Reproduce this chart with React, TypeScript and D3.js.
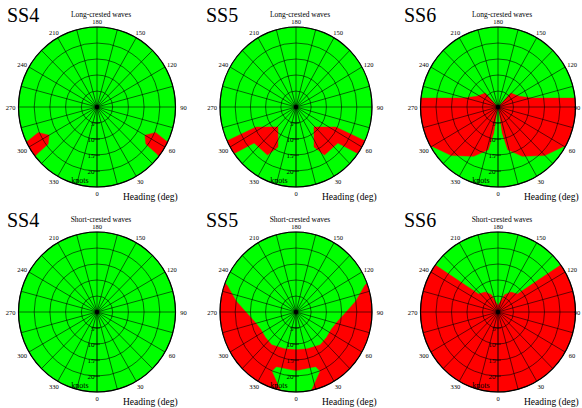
import React from 'react';
import * as d3 from 'd3';

type Pt = [number, number]; // [heading deg, speed knots]

const seaStates = ['SS4', 'SS5', 'SS6'];
const waveTypes = ['Long-crested waves', 'Short-crested waves'];
const headingLabels = [0, 30, 60, 90, 120, 150, 180, 210, 240, 270, 300, 330];
const spokeHeadings = [0, 15, 30, 45, 60, 75, 90, 105, 120, 135, 150, 165, 180, 195, 210, 225, 240, 255, 270, 285, 300, 315, 330, 345];
const ringSpeeds = [5, 10, 15, 20, 25];
const speedTicks = [5, 10, 15, 20];
const maxSpeed = 25;

// outlines of the zones on the 0-180 side, mirrored onto 180-360
// (speeds above 25 only push the edge past the rim, the circle clips them)
const ss4LongRed: Pt[] = [[60, 17.6], [67, 20.3], [64, 25], [63, 28], [51, 28], [52.4, 24], [53.3, 19.4]];
const ss5LongRed: Pt[] = [[43.5, 8.6], [64.5, 14.5], [65, 24.2], [66, 28], [54, 28], [54.3, 24.6], [50.7, 17.8], [32, 17.7], [25.4, 13.8]];
const ss6LongRed: Pt[] = [[0, 0], [136.5, 6], [116.3, 7.6], [104.4, 11.3], [96.4, 25], [97, 28], [78, 28], [60, 28], [60.1, 24.6], [44.8, 21.4], [26.9, 17.3], [13.2, 13.7], [9.5, 8.2], [12, 2], [0, 0]];
const ss5ShortRed: Pt[] = [[0, 11.8], [18, 12.1], [38, 13], [52, 12.8], [65, 12.8], [78, 14], [90, 16.5], [100, 20], [110, 24], [114, 28], [90, 28], [60, 28], [30, 28], [0, 28]];
const ss5ShortGreen: Pt[] = [[0, 18.4], [20.6, 18.4], [22.9, 20.1], [11.4, 25], [10, 28], [0, 28]];
const ss6ShortRed: Pt[] = [[180, 2], [158.8, 5.8], [146.4, 7.5], [132, 8.4], [126, 25], [126, 28], [90, 28], [60, 28], [30, 28], [0, 28], [0, 0]];

const RED = '#ff0000';
const GREEN = '#00ff00';

interface Zone { fill: string; half: Pt[]; joined: boolean }

// row-major: long-crested SS4..SS6, then short-crested SS4..SS6
const panelZones: Zone[][] = [
  [{ fill: RED, half: ss4LongRed, joined: false }],
  [{ fill: RED, half: ss5LongRed, joined: false }],
  [{ fill: RED, half: ss6LongRed, joined: true }],
  [],
  [{ fill: RED, half: ss5ShortRed, joined: true }, { fill: GREEN, half: ss5ShortGreen, joined: true }],
  [{ fill: RED, half: ss6ShortRed, joined: true }],
];

// panel placement
const colCx = [97, 296, 498];
const colRx = [78.5, 76, 77.5];
const colTitleX = [7, 206, 404];
const rowCy = [107, 312];
const ry = 80;
const W = 582;
const H = 408;

const mirror = (p: Pt): Pt => [360 - p[0], p[1]];

function zonePolys(z: Zone): Pt[][] {
  const m = z.half.map(mirror);
  if (z.joined) return [z.half.concat(m.reverse())];
  return [z.half, m];
}

const Panel: React.FC<{ row: number; col: number }> = ({ row, col }) => {
  const cx = colCx[col];
  const rx = colRx[col];
  const cy = rowCy[row];
  const idx = row * 3 + col;
  const rad = d3.scaleLinear().domain([0, maxSpeed]).range([0, 1]);
  const px = (h: number, s: number) => cx + rx * rad(s) * Math.sin((h * Math.PI) / 180);
  const py = (h: number, s: number) => cy + ry * rad(s) * Math.cos((h * Math.PI) / 180);
  const line = d3.line<Pt>().x(d => px(d[0], d[1])).y(d => py(d[0], d[1])).curve(d3.curveLinearClosed);
  const clipId = `clip-${idx}`;
  const font = "'Liberation Serif', 'DejaVu Serif', serif";

  return (
    <g fontFamily={font}>
      <defs>
        <clipPath id={clipId}>
          <ellipse cx={cx} cy={cy} rx={rx} ry={ry} />
        </clipPath>
      </defs>
      <ellipse cx={cx} cy={cy} rx={rx} ry={ry} fill={GREEN} />
      <g clipPath={`url(#${clipId})`}>
        {panelZones[idx].map((z, i) =>
          zonePolys(z).map((poly, j) => (
            <path key={`${i}-${j}`} d={line(poly) || ''} fill={z.fill} stroke={z.fill} strokeWidth={0.4} />
          ))
        )}
      </g>
      {ringSpeeds.map(s => (
        <ellipse key={s} cx={cx} cy={cy} rx={rx * rad(s)} ry={ry * rad(s)} fill="none" stroke="#000" strokeWidth={0.7} strokeOpacity={0.85} />
      ))}
      {spokeHeadings.map(h => (
        <line key={h} x1={cx} y1={cy} x2={px(h, maxSpeed)} y2={py(h, maxSpeed)} stroke="#000" strokeWidth={h === 0 ? 1.1 : 0.7} strokeOpacity={0.85} />
      ))}
      <ellipse cx={cx} cy={cy} rx={rx} ry={ry} fill="none" stroke="#000" strokeWidth={1.2} />
      <circle cx={cx} cy={cy} r={2.2} fill="#000" />
      {speedTicks.map(s => (
        <g key={s}>
          <line x1={cx - 3} x2={cx + 3} y1={py(0, s)} y2={py(0, s)} stroke="#000" strokeWidth={0.7} />
          <text x={cx - 2.5} y={py(0, s) + 2.5} fontSize={7} textAnchor="end" fill="#000">{s}</text>
        </g>
      ))}
      <text x={cx - 17} y={cy + 76} fontSize={8} textAnchor="middle" fill="#000">knots</text>
      {headingLabels.map(h => {
        const a = (h * Math.PI) / 180;
        const x = Math.min(cx + (rx + 8) * Math.sin(a), W - 5);
        return (
          <text key={h} x={x} y={cy + (ry + 6) * Math.cos(a)} fontSize={6.5} textAnchor="middle" dominantBaseline="central" fill="#000">{h}</text>
        );
      })}
      <text x={colTitleX[col]} y={cy - 85} fontSize={20} fill="#000">{seaStates[col]}</text>
      <text x={cx + 4} y={cy - 90} fontSize={7.5} textAnchor="middle" fill="#000">{waveTypes[row]}</text>
      <text x={cx + 26} y={cy + 93} fontSize={9.5} fill="#000">Heading (deg)</text>
    </g>
  );
};

export default function App() {
  return (
    <svg width={W} height={H} style={{ position: 'fixed', left: 0, top: 0, background: '#fff' }}>
      <rect width={W} height={H} fill="#fff" />
      {[0, 1].map(r => [0, 1, 2].map(c => <Panel key={`${r}-${c}`} row={r} col={c} />))}
    </svg>
  );
}
